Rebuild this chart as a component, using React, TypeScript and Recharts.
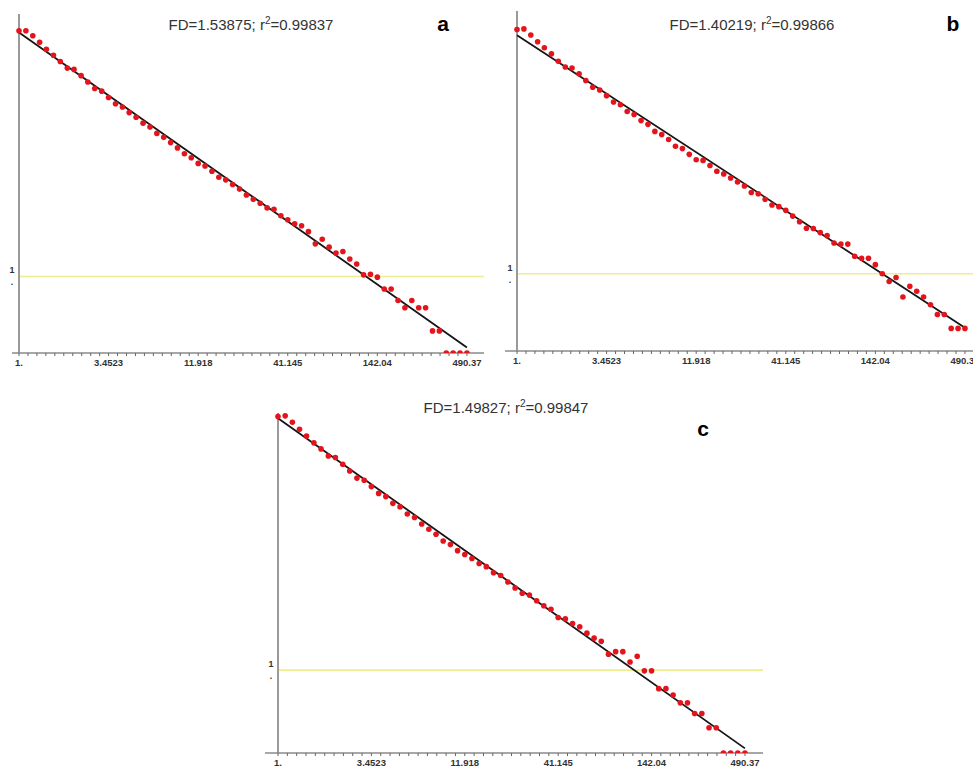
import React from "react";
import { ScatterChart, Scatter, XAxis, YAxis, ReferenceLine } from "recharts";

// box sizes (x, log axis)
const boxSizes = [
  1, 1.1, 1.21, 1.33, 1.46, 1.61, 1.77, 1.95, 2.14, 2.36, 2.59, 2.85, 3.14,
  3.45, 3.8, 4.18, 4.59, 5.05, 5.56, 6.12, 6.73, 7.4, 8.14, 8.95, 9.85, 10.83,
  11.92, 13.11, 14.42, 15.86, 17.45, 19.19, 21.11, 23.23, 25.55, 28.1, 30.91,
  34, 37.4, 41.14, 45.26, 49.79, 54.76, 60.24, 66.26, 72.89, 80.18, 88.2,
  97.02, 106.72, 117.39, 129.13, 142.04, 156.25, 171.87, 189.06, 207.97,
  228.76, 251.64, 276.8, 304.48, 334.93, 368.42, 405.27, 445.79, 490.37,
];

// log counts
const panelA = [
  7.45, 7.45, 7.3, 7.1, 6.89, 6.71, 6.52, 6.32, 6.28, 6.09, 5.9, 5.7, 5.62,
  5.43, 5.24, 5.14, 4.97, 4.83, 4.65, 4.53, 4.34, 4.22, 4.06, 3.9, 3.72, 3.6,
  3.43, 3.35, 3.19, 3.01, 2.93, 2.79, 2.65, 2.47, 2.34, 2.22, 2.08, 2.04, 1.84,
  1.72, 1.6, 1.54, 1.36, 0.99, 1.13, 0.89, 0.71, 0.76, 0.53, 0.38, 0.05, 0.07,
  -0.02, -0.38, -0.38, -0.73, -0.95, -0.73, -0.95, -0.95, -1.65, -1.65, -2.32,
  -2.32, -2.32, -2.32,
];
const panelB = [
  7.24, 7.26, 7.08, 6.88, 6.7, 6.52, 6.3, 6.13, 6.1, 5.93, 5.73, 5.53, 5.45,
  5.28, 5.09, 5.01, 4.81, 4.72, 4.54, 4.43, 4.22, 4.13, 3.98, 3.78, 3.71, 3.54,
  3.38, 3.36, 3.21, 3.04, 2.96, 2.84, 2.72, 2.6, 2.41, 2.37, 2.21, 2.04, 1.99,
  1.88, 1.71, 1.54, 1.35, 1.34, 1.22, 1.13, 0.91, 0.88, 0.88, 0.52, 0.46, 0.46,
  0.27, 0.0, -0.23, -0.11, -0.69, -0.37, -0.52, -0.69, -0.92, -1.21, -1.21,
  -1.62, -1.62, -1.62,
];
const panelC = [
  7.13, 7.15, 6.97, 6.77, 6.58, 6.39, 6.22, 6.02, 5.98, 5.79, 5.6, 5.4, 5.34,
  5.16, 4.97, 4.88, 4.69, 4.59, 4.39, 4.29, 4.11, 3.96, 3.82, 3.63, 3.53, 3.36,
  3.25, 3.14, 3.0, 2.91, 2.74, 2.66, 2.48, 2.31, 2.16, 2.11, 1.95, 1.81, 1.71,
  1.48, 1.44, 1.31, 1.22, 1.04, 0.9, 0.81, 0.45, 0.52, 0.52, 0.23, 0.39, -0.02,
  -0.02, -0.52, -0.52, -0.7, -0.92, -0.92, -1.22, -1.22, -1.62, -1.62, -2.33,
  -2.33, -2.33, -2.33,
];

// regression line ends (at x = 1 and x = 490.37)
const fitA = [7.4, -2.15];
const fitB = [7.07, -1.6];
const fitC = [7.08, -2.2];

const fdValues = [1.53875, 1.40219, 1.49827];
const r2Values = [0.99837, 0.99866, 0.99847];
const panelLetters = ["a", "b", "c"];

const majorTicks = [1, 3.4523, 11.918, 41.145, 142.04, 490.37];
const tickLabels = ["1.", "3.4523", "11.918", "41.145", "142.04", "490.37"];

const minorTicks: number[] = [];
for (let k = 0; k < majorTicks.length - 1; k++) {
  const r = majorTicks[k + 1] / majorTicks[k];
  for (let j = 1; j < 10; j++) minorTicks.push(majorTicks[k] * Math.pow(r, j / 10));
}
const allTicks = [...majorTicks, ...minorTicks].sort((a, b) => a - b);

const XTick = (props: any) => {
  const { x, y, payload } = props;
  const i = majorTicks.indexOf(payload.value);
  return (
    <g>
      <line x1={x} x2={x} y1={y} y2={y + 3} stroke="#666" strokeWidth={1} />
      {i >= 0 && (
        <text
          x={x}
          y={y + 13}
          textAnchor="middle"
          fontSize={9.5}
          fontWeight="bold"
          fontFamily="'Liberation Sans', Arial, sans-serif"
          fill="#333"
        >
          {tickLabels[i]}
        </text>
      )}
    </g>
  );
};

const panels = [
  {
    vals: panelA, fit: fitA, left: 0, top: 0, w: 490, h: 372,
    margin: { top: 14, right: 6, left: 11, bottom: 0 }, xh: 19,
    xDomain: [0.9077, 620.9], yDomain: [-2.32, 7.96], lx: 12,
    title: [251, 24], letter: [443, 23],
  },
  {
    vals: panelB, fit: fitB, left: 490, top: 0, w: 483, h: 372,
    margin: { top: 11, right: 0, left: 14, bottom: 0 }, xh: 21,
    xDomain: [0.847, 548.1], yDomain: [-2.29, 7.79], lx: 20,
    title: [752, 24], letter: [953, 23],
  },
  {
    vals: panelC, fit: fitC, left: 250, top: 395, w: 520, h: 373,
    margin: { top: 18, right: 7, left: 14, bottom: 0 }, xh: 15,
    xDomain: [0.8416, 623], yDomain: [-2.33, 7.23], lx: 21,
    title: [506, 407], letter: [703, 428],
  },
];

const Panel = ({ p }: { p: (typeof panels)[number] }) => {
  const rows = boxSizes.map((s, i) => ({ size: s, v: p.vals[i] }));
  const fitRows = [
    { size: majorTicks[0], v: p.fit[0] },
    { size: majorTicks[majorTicks.length - 1], v: p.fit[1] },
  ];
  return (
    <div style={{ position: "absolute", left: p.left, top: p.top }}>
      <ScatterChart width={p.w} height={p.h} margin={p.margin}>
        <XAxis
          type="number"
          dataKey="size"
          scale="log"
          domain={p.xDomain}
          allowDataOverflow
          ticks={allTicks}
          interval={0}
          tickSize={0}
          tickMargin={0}
          tickLine={false}
          tick={<XTick />}
          height={p.xh}
          axisLine={{ stroke: "#8a8a8a", strokeWidth: 1.5 }}
        />
        <YAxis
          type="number"
          dataKey="v"
          domain={p.yDomain}
          allowDataOverflow
          ticks={[0]}
          width={1}
          axisLine={false}
          tickLine={false}
          tick={(t: any) => (
            <g>
              <text x={p.lx} y={t.y - 3} textAnchor="middle" fontSize={9} fontWeight="bold" fontFamily="'Liberation Sans', Arial" fill="#333">1</text>
              <text x={p.lx} y={t.y + 9} textAnchor="middle" fontSize={9} fontWeight="bold" fontFamily="'Liberation Sans', Arial" fill="#333">.</text>
            </g>
          )}
        />
        <ReferenceLine
          segment={[{ x: 1, y: 0 }, { x: p.xDomain[1], y: 0 }]}
          stroke="#eeee90"
          strokeWidth={1.6}
        />
        <ReferenceLine x={1} stroke="#9a9a9a" strokeWidth={2} />
        <Scatter
          data={fitRows}
          isAnimationActive={false}
          line={{ stroke: "#151515", strokeWidth: 1.8 }}
          shape={() => <g />}
        />
        <Scatter
          data={rows}
          isAnimationActive={false}
          shape={(d: any) => <circle cx={d.cx} cy={d.cy} r={2.8} fill="#e3141c" />}
        />
      </ScatterChart>
    </div>
  );
};

export default function App() {
  return (
    <div
      style={{
        position: "absolute",
        left: 0,
        top: 0,
        width: 973,
        height: 768,
        overflow: "hidden",
        background: "#fff",
      }}
    >
      {panels.map((p, i) => (
        <Panel key={i} p={p} />
      ))}
      {panels.map((p, i) => (
        <div
          key={"t" + i}
          style={{
            position: "absolute",
            left: p.title[0],
            top: p.title[1],
            transform: "translate(-50%, -50%)",
            font: "15px 'Liberation Sans', Arial, sans-serif",
            color: "#333",
            whiteSpace: "nowrap",
            lineHeight: 1,
          }}
        >
          FD={fdValues[i]}; r
          <span style={{ fontSize: 10, position: "relative", top: -6 }}>2</span>={r2Values[i]}
        </div>
      ))}
      {panels.map((p, i) => (
        <div
          key={"l" + i}
          style={{
            position: "absolute",
            left: p.letter[0],
            top: p.letter[1],
            transform: "translate(-50%, -50%)",
            font: "bold 21px 'Liberation Sans', Arial, sans-serif",
            color: "#000",
            lineHeight: 1,
          }}
        >
          {panelLetters[i]}
        </div>
      ))}
    </div>
  );
}
